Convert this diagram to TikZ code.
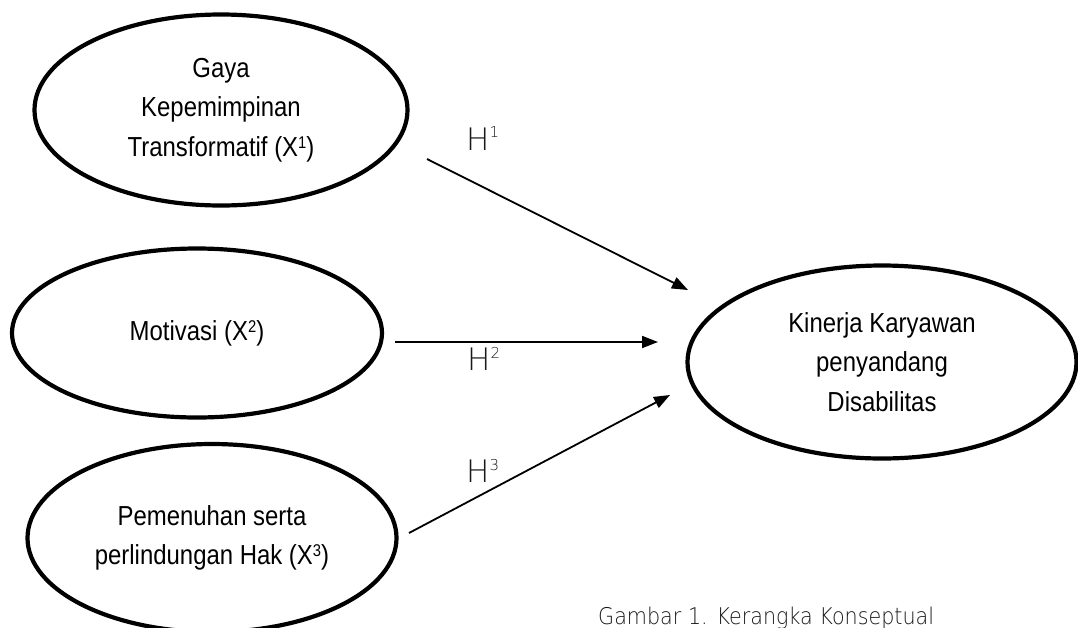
\documentclass[tikz,border=0pt]{standalone}
\usepackage{fontspec}
\setmainfont{Liberation Sans}[FakeStretch=0.87]
\newfontfamily\hfont{DejaVuSans-ExtraLight.ttf}
\newfontfamily\capfont{DejaVuSans-ExtraLight.ttf}[FakeStretch=0.9]
\newcommand{\xsup}[1]{\raisebox{8pt}{\fontsize{17}{17}\selectfont #1}}
\usetikzlibrary{shapes.geometric,arrows.meta}
\begin{document}
\begin{tikzpicture}[x=1pt,y=-1pt,
  ell/.style={draw=black, line width=4.2pt, ellipse, inner sep=0pt, align=center,
    font=\fontsize{27.5}{39.5}\selectfont},
  conn/.style={line width=1.8pt, -{Triangle[length=16pt,width=12pt]}},
  hlab/.style={anchor=base west, inner sep=0pt, text=black!90,
    font=\hfont\fontsize{31}{31}\selectfont}]
\useasboundingbox (0,0) rectangle (1078,627);
\fill[white] (0,0) rectangle (1078,627);

\node[ell, minimum width=373pt, minimum height=191pt] (x1) at (221,110)
  {Gaya\\Kepemimpinan\\Transformatif (X\xsup{1})};
\node[ell, minimum width=370pt, minimum height=169pt] (x2) at (197,333)
  {Motivasi (X\xsup{2})};
\node[ell, minimum width=369pt, minimum height=188pt] (x3) at (212,538)
  {Pemenuhan serta\\perlindungan Hak (X\xsup{3})};
\node[ell, minimum width=389pt, minimum height=193pt] (y) at (882,362)
  {Kinerja Karyawan\\penyandang\\Disabilitas};

\coordinate (s1) at (427,159);
\coordinate (t1) at (688,290);
\coordinate (s2) at (395,342);
\coordinate (t2) at (658,342);
\coordinate (s3) at (409,533);
\coordinate (t3) at (670,395);

\draw[conn] (s1) -- (t1);
\draw[conn] (s2) -- (t2);
\draw[conn] (s3) -- (t3);

\node[hlab] (h1) at (466,150) {H\raisebox{13pt}{\fontsize{15}{15}\selectfont 1}};
\node[hlab] (h2) at (467,370) {H\raisebox{12pt}{\fontsize{15}{15}\selectfont 2}};
\node[hlab] (h3) at (466,482) {H\raisebox{12pt}{\fontsize{15}{15}\selectfont 3}};

\node[anchor=base west, inner sep=0pt, text=black!90,
  font=\capfont\fontsize{23}{23}\selectfont] (cap) at (598,624)
  {Gambar 1. Kerangka Konseptual};
\end{tikzpicture}
\end{document}
